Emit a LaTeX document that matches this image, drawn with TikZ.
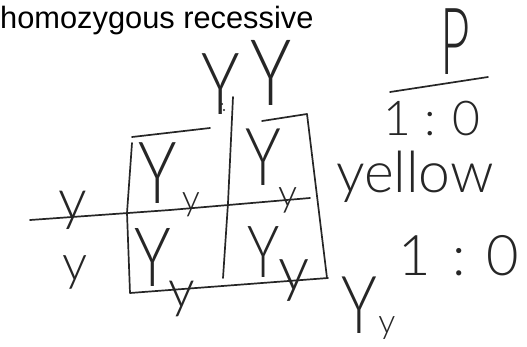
\documentclass[tikz,border=0pt]{standalone}
\usepackage{fontspec}
\setmainfont{Liberation Sans}
\newfontfamily\handfont{Lato Light}
\newfontfamily\handmid{Lato Light}[FakeStretch=0.75]
\newfontfamily\handnarrow{Lato Light}[FakeStretch=0.55]
\definecolor{ink}{HTML}{262626}

\begin{document}
\begin{tikzpicture}[x=1pt,y=-1pt,
    pen/.style={line width=1.7pt,draw=ink,line cap=round,line join=round},
    bigY/.style={inner sep=0pt,text=ink,font=\handmid\fontsize{#1}{#1}\selectfont},
    handy/.style={inner sep=0pt,text=ink,font=\handfont\fontsize{#1}{#1}\selectfont}]
        \useasboundingbox (0,0) rectangle (527,346);
        \node[anchor=base west,inner sep=0pt,font=\fontsize{30.8}{31}\selectfont] (title) at (0,28) {homozygous recessive};
        \node[bigY=86] (topYa) at (221,84) {Y};
        \node[bigY=92] (topYb) at (271,73) {Y};
        \fill[ink] (222,104) circle (1.1pt) (224,110) circle (1.1pt);
        \node[inner sep=0pt,text=ink,font=\handnarrow\fontsize{93}{93}\selectfont] (parent) at (455,42) {P};
        \draw[pen] (390,92) -- (488,77);
        \node[handy=48] (ratioA) at (432,119) {1 : 0};
        \draw[pen] (132,137) -- (210,128);
        \draw[pen] (262,121) -- (307,114) -- (327,278);
        \draw[pen] (132,143) -- (127,213) -- (130,293) -- (328,278);
        \draw[pen] (233,97) -- (228,203) -- (223,278);
        \draw[pen] (30,220) -- (170,210) -- (310,198);
        \node[handy=57] (rowA) at (73,210) {y};
        \node[handy=50] (rowB) at (75,272) {y};
        \node[bigY=86] (cellA) at (158,173) {Y};
        \node[handy=36] (cellAy) at (191,205) {y};
        \node[bigY=80] (cellB) at (263,157) {Y};
        \node[handy=38] (cellBy) at (288,200) {y};
        \node[bigY=82] (cellC) at (153,257) {Y};
        \node[handy=53] (cellCy) at (182,299) {y};
        \node[bigY=72] (cellD) at (264,252) {Y};
        \node[handy=62] (cellDy) at (294,281) {y};
        \node[handy=57] (colour) at (415,177) {yellow};
        \node[handy=56] (ratioB) at (459,256) {1\hspace{21pt}:\hspace{21pt}0};
        \node[bigY=80] (resultY) at (359,305) {Y};
        \node[handy=34] (resulty) at (387,328) {y};
      \end{tikzpicture}
\end{document}
